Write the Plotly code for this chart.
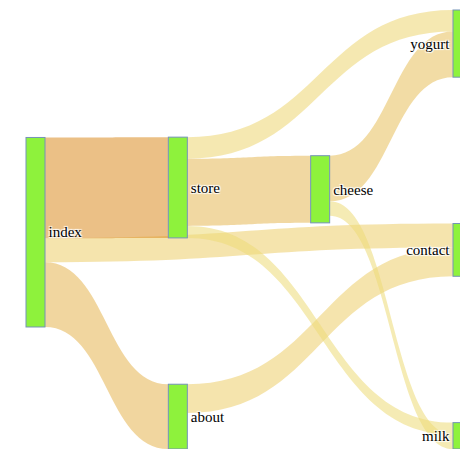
import plotly.graph_objects as go

# Pages and the traffic flowing between them
labels = ['index', 'about', 'contact', 'store', 'cheese', 'yogurt', 'milk']

sources = [0, 0, 0, 1, 3, 3, 3, 4, 4]
targets = [2, 1, 3, 2, 5, 4, 6, 5, 6]
values = [10, 27, 42, 12, 9, 28, 5, 19, 6]

# one colour per link, heavier flows are more orange
link_colors = [
    'rgba(235,202,91,0.5)',
    'rgba(228,173,64,0.5)',
    'rgba(219,141,35,0.55)',
    'rgba(235,202,91,0.5)',
    'rgba(236,210,100,0.5)',
    'rgba(228,178,70,0.5)',
    'rgba(237,219,119,0.55)',
    'rgba(230,185,75,0.5)',
    'rgba(237,219,119,0.55)',
]

fig = go.Figure(go.Sankey(
    arrangement='snap',
    node=dict(label=labels,
              pad=194,
              thickness=19,
              color='#8ef23c',
              line=dict(color='#7593b8', width=1)),
    link=dict(source=sources, target=targets, value=values,
              color=link_colors),
    hoverinfo='none'))

fig.update_traces(textfont=dict(family='Liberation Serif', size=15, color='black'))

fig.update_layout(width=468, height=449,
                  margin=dict(l=18, r=4, t=2, b=8),
                  paper_bgcolor='white',
                  font=dict(family='Liberation Serif', size=15, color='black'))

fig.write_html("out.html")
